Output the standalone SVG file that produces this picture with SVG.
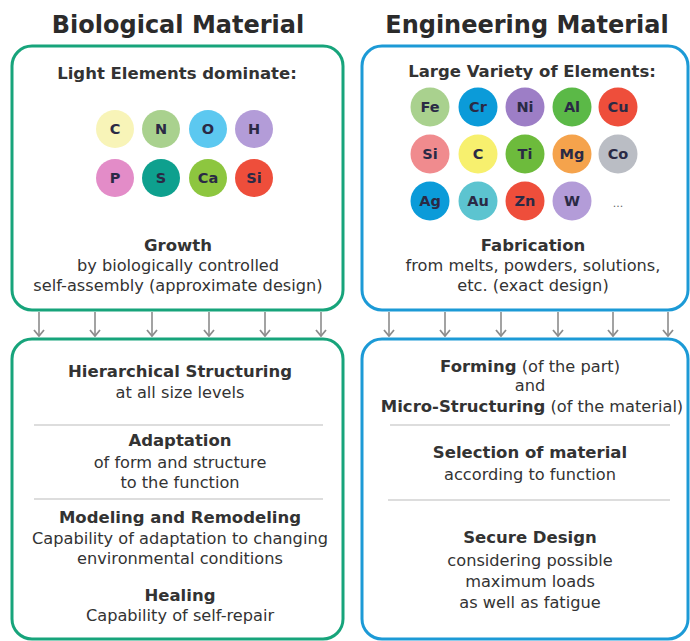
<svg xmlns="http://www.w3.org/2000/svg" width="690" height="641" viewBox="0 0 690 641">
<defs>
<style>
text{font-family:"DejaVu Sans","Liberation Sans",sans-serif;fill:#333;text-anchor:middle}
.title{font-size:24px;font-weight:bold;fill:#2b2b2b}
.h{font-size:16.5px;font-weight:bold}
.t{font-size:16.2px}
.el{font-size:14.5px;font-weight:bold;fill:#2a2a45}
.gbox{fill:#fff;stroke:#17a47b;stroke-width:3}
.bbox{fill:#fff;stroke:#1c9ad6;stroke-width:3}
.sep{stroke:#bbb;stroke-width:1}
.arr{stroke:#8c8c8c;stroke-width:1.6;fill:none;marker-end:url(#ah)}
</style>
<marker id="ah" viewBox="0 0 12 10" refX="6" refY="9" markerWidth="12" markerHeight="10" markerUnits="userSpaceOnUse" orient="0">
<path d="M1,3 L6,9 L11,3" fill="none" stroke="#8c8c8c" stroke-width="1.8"/>
</marker>
</defs>
<rect width="690" height="641" fill="#fff"/>

<g id="title-bio"><text class="title" x="178" y="33">Biological Material</text></g>
<g id="title-eng"><text class="title" x="527" y="33">Engineering Material</text></g>

<g id="bio-top">
<rect class="gbox" x="12" y="46" width="331" height="264" rx="20"/>
<text class="h" x="177" y="79">Light Elements dominate:</text>
<circle cx="115" cy="129" r="19" fill="#f8f4b8"/><text class="el" x="115" y="134">C</text>
<circle cx="161" cy="129" r="19" fill="#a9d18e"/><text class="el" x="161" y="134">N</text>
<circle cx="208" cy="129" r="19" fill="#5cc8f0"/><text class="el" x="208" y="134">O</text>
<circle cx="254" cy="129" r="19" fill="#b39cd8"/><text class="el" x="254" y="134">H</text>
<circle cx="115" cy="178" r="19" fill="#e38cc8"/><text class="el" x="115" y="183">P</text>
<circle cx="161" cy="178" r="19" fill="#0ea08e"/><text class="el" x="161" y="183">S</text>
<circle cx="208" cy="178" r="19" fill="#8dc63f"/><text class="el" x="208" y="183">Ca</text>
<circle cx="254" cy="178" r="19" fill="#ee4e3b"/><text class="el" x="254" y="183">Si</text>
<text class="h" x="178" y="251">Growth</text>
<text class="t" x="178" y="271">by biologically controlled</text>
<text class="t" x="178" y="291">self-assembly (approximate design)</text>
</g>

<g id="eng-top">
<rect class="bbox" x="362" y="46" width="326" height="264" rx="20"/>
<text class="h" x="532" y="77">Large Variety of Elements:</text>
<circle cx="430" cy="107" r="19.5" fill="#a9d18e"/><text class="el" x="430" y="112">Fe</text>
<circle cx="478" cy="107" r="19.5" fill="#0b9bd9"/><text class="el" x="478" y="112">Cr</text>
<circle cx="525" cy="107" r="19.5" fill="#9d7ec6"/><text class="el" x="525" y="112">Ni</text>
<circle cx="572" cy="107" r="19.5" fill="#5bb947"/><text class="el" x="572" y="112">Al</text>
<circle cx="618" cy="107" r="19.5" fill="#ee4e3b"/><text class="el" x="618" y="112">Cu</text>
<circle cx="430" cy="154" r="19.5" fill="#f08b8e"/><text class="el" x="430" y="159">Si</text>
<circle cx="478" cy="154" r="19.5" fill="#f7f06e"/><text class="el" x="478" y="159">C</text>
<circle cx="525" cy="154" r="19.5" fill="#6dbb3c"/><text class="el" x="525" y="159">Ti</text>
<circle cx="572" cy="154" r="19.5" fill="#f5a34c"/><text class="el" x="572" y="159">Mg</text>
<circle cx="618" cy="154" r="19.5" fill="#babdc4"/><text class="el" x="618" y="159">Co</text>
<circle cx="430" cy="201" r="19.5" fill="#0b9bd9"/><text class="el" x="430" y="206">Ag</text>
<circle cx="478" cy="201" r="19.5" fill="#5cc4d0"/><text class="el" x="478" y="206">Au</text>
<circle cx="525" cy="201" r="19.5" fill="#ee4e3b"/><text class="el" x="525" y="206">Zn</text>
<circle cx="572" cy="201" r="19.5" fill="#b39cd8"/><text class="el" x="572" y="206">W</text>
<text x="618" y="207" style="font-size:11px;fill:#666">...</text>
<text class="h" x="533" y="251">Fabrication</text>
<text class="t" x="533" y="271">from melts, powders, solutions,</text>
<text class="t" x="533" y="291">etc. (exact design)</text>
</g>

<g id="connectors">
<line class="arr" x1="39" y1="312" x2="39" y2="336"/>
<line class="arr" x1="95" y1="312" x2="95" y2="336"/>
<line class="arr" x1="152" y1="312" x2="152" y2="336"/>
<line class="arr" x1="209" y1="312" x2="209" y2="336"/>
<line class="arr" x1="265" y1="312" x2="265" y2="336"/>
<line class="arr" x1="321" y1="312" x2="321" y2="336"/>
<line class="arr" x1="389" y1="312" x2="389" y2="336"/>
<line class="arr" x1="445" y1="312" x2="445" y2="336"/>
<line class="arr" x1="501" y1="312" x2="501" y2="336"/>
<line class="arr" x1="558" y1="312" x2="558" y2="336"/>
<line class="arr" x1="613" y1="312" x2="613" y2="336"/>
<line class="arr" x1="668" y1="312" x2="668" y2="336"/>
</g>

<g id="bio-bottom">
<rect class="gbox" x="12" y="339" width="331" height="300" rx="20"/>
<text class="h" x="180" y="377">Hierarchical Structuring</text>
<text class="t" x="180" y="398">at all size levels</text>
<line class="sep" x1="34" y1="425" x2="323" y2="425"/>
<text class="h" x="180" y="446">Adaptation</text>
<text class="t" x="180" y="468">of form and structure</text>
<text class="t" x="180" y="488">to the function</text>
<line class="sep" x1="34" y1="499" x2="323" y2="499"/>
<text class="h" x="180" y="523">Modeling and Remodeling</text>
<text class="t" x="180" y="544">Capability of adaptation to changing</text>
<text class="t" x="180" y="564">environmental conditions</text>
<text class="h" x="180" y="601">Healing</text>
<text class="t" x="180" y="621">Capability of self-repair</text>
</g>

<g id="eng-bottom">
<rect class="bbox" x="362" y="339" width="326" height="300" rx="20"/>
<text x="530" y="372"><tspan class="h">Forming</tspan><tspan class="t"> (of the part)</tspan></text>
<text class="t" x="530" y="391">and</text>
<text x="532" y="412"><tspan class="h">Micro-Structuring</tspan><tspan class="t"> (of the material)</tspan></text>
<line class="sep" x1="390" y1="425" x2="670" y2="425"/>
<text class="h" x="530" y="458">Selection of material</text>
<text class="t" x="530" y="480">according to function</text>
<line class="sep" x1="388" y1="500" x2="670" y2="500"/>
<text class="h" x="530" y="543">Secure Design</text>
<text class="t" x="530" y="566">considering possible</text>
<text class="t" x="530" y="587">maximum loads</text>
<text class="t" x="530" y="608">as well as fatigue</text>
</g>
</svg>
